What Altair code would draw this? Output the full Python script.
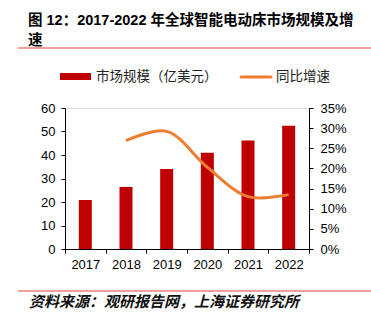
import altair as alt
import pandas as pd

years = ["2017", "2018", "2019", "2020", "2021", "2022"]
market = [20.8, 26.4, 34.0, 41.0, 46.2, 52.4]
growth_years = ["2018", "2019", "2020", "2021", "2022"]
growth = [0.269, 0.292, 0.203, 0.130, 0.135]

title_lines = ["图 12：2017-2022 年全球智能电动床市场规模及增", "速"]
legend_labels = ["市场规模（亿美元）", "同比增速"]
source_text = ["资料来源：观研报告网，上海证券研究所"]

BAR = "#C00000"
LINE = "#ED7D31"
FONT = "Liberation Sans, Noto Sans CJK SC"

bars_df = pd.DataFrame({"year": years, "value": market})
line_df = pd.DataFrame({"year": growth_years, "rate": growth})

xenc = alt.X(
    "year:N",
    sort=years,
    scale=alt.Scale(domain=years, paddingInner=0, paddingOuter=0),
    axis=alt.Axis(
        title=None, labelAngle=0, tickBand="extent", domainColor="#000",
        tickColor="#000", tickSize=4, labelPadding=5, labelFontSize=13,
        labelFont=FONT, labelColor="#000", grid=False,
    ),
)

bars = alt.Chart(bars_df).mark_bar(color=BAR, size=13).encode(
    x=xenc,
    y=alt.Y(
        "value:Q",
        scale=alt.Scale(domain=[0, 60]),
        axis=alt.Axis(
            title=None, values=[0, 10, 20, 30, 40, 50, 60], grid=False,
            domainColor="#000", tickColor="#000", tickSize=4, labelPadding=6,
            labelFontSize=13, labelFont=FONT, labelColor="#000",
        ),
    ),
)

line = alt.Chart(line_df).mark_line(
    color=LINE, strokeWidth=3, interpolate="catmull-rom"
).encode(
    x=alt.X("year:N", sort=years),
    y=alt.Y(
        "rate:Q",
        scale=alt.Scale(domain=[0, 0.35]),
        axis=alt.Axis(
            title=None, orient="right", format=".0%",
            values=[0, 0.05, 0.1, 0.15, 0.2, 0.25, 0.3, 0.35], grid=False,
            domainColor="#000", tickColor="#000", tickSize=4, labelPadding=7,
            labelFontSize=13, labelFont=FONT, labelColor="#000",
        ),
    ),
)

def txt(s, x, y, **kw):
    return alt.Chart(pd.DataFrame({"t": [s]})).mark_text(
        align="left", baseline="middle", font=FONT, **kw
    ).encode(text="t:N", x=alt.value(x), y=alt.value(y))

one = pd.DataFrame({"a": [0]})

title1 = txt(title_lines[0], -37, -87, fontSize=14.5, fontWeight="bold", color="#000")
title2 = txt(title_lines[1], -37, -67, fontSize=14.5, fontWeight="bold", color="#000")
top_rule = alt.Chart(one).mark_rule(color="#E8403A", strokeWidth=1.2).encode(
    x=alt.value(-47), x2=alt.value(306), y=alt.value(-60)
)
leg_rect = alt.Chart(one).mark_rect(color=BAR).encode(
    x=alt.value(-5), x2=alt.value(26), y=alt.value(-35), y2=alt.value(-28)
)
leg_t1 = txt(legend_labels[0], 31, -31, fontSize=13.5, color="#222")
leg_line = alt.Chart(one).mark_rule(color=LINE, strokeWidth=3, strokeCap="round").encode(
    x=alt.value(176), x2=alt.value(206), y=alt.value(-31)
)
leg_t2 = txt(legend_labels[1], 211, -31, fontSize=13.5, color="#222")
bot_rule = alt.Chart(one).mark_rule(color="#E8403A", strokeWidth=1.2).encode(
    x=alt.value(-47), x2=alt.value(306), y=alt.value(183)
)
footer = txt(source_text[0], -36, 194, fontSize=15, fontStyle="italic",
             fontWeight="bold", color="#111")

chart = alt.layer(
    bars, line, title1, title2, top_rule, leg_rect, leg_t1, leg_line, leg_t2,
    bot_rule, footer,
).resolve_scale(y="independent").properties(
    width=244, height=141,
    autosize=alt.AutoSizeParams(type="none"),
    padding={"left": 65, "top": 108, "right": 62, "bottom": 75},
).configure_view(stroke=None).configure(background="white")

chart.save("out.html", embed_options={"renderer": "svg", "actions": False})
